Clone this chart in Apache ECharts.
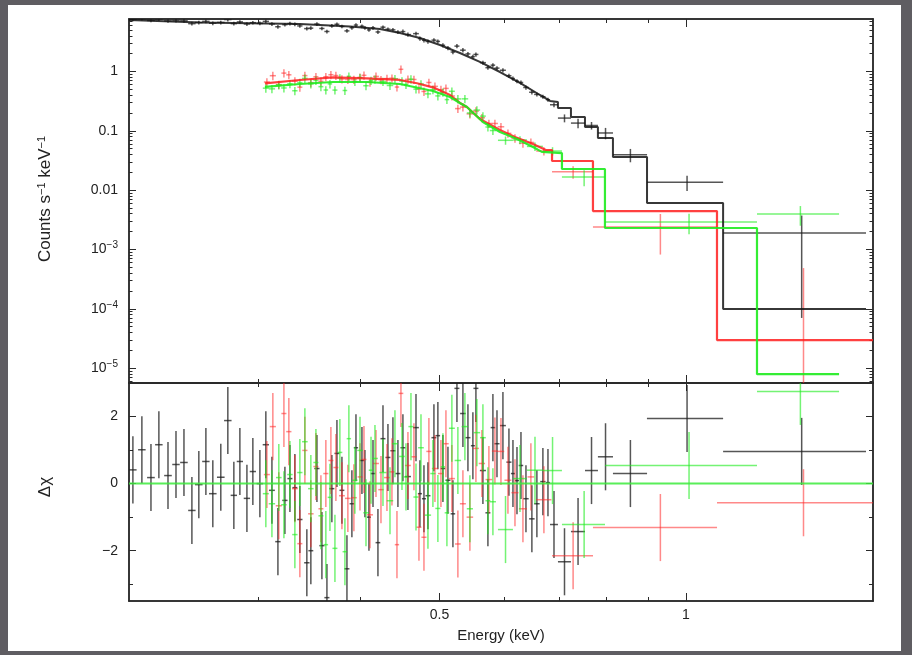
<!DOCTYPE html>
<html>
<head>
<meta charset="utf-8">
<title>Spectrum fit</title>
<script src="https://cdn.jsdelivr.net/npm/echarts@6/dist/echarts.min.js"></script>
<style>
  html, body { margin: 0; padding: 0; }
  #chart { width: 912px; height: 655px; }
</style>
</head>
<body>
<div id="chart"></div>
<script>
// axis ranges (keV, counts/s/keV, delta chi)
const xMin = 0.2088, xMax = 1.692;
const yMin = 5.6e-6, yMax = 7.68;
const rMin = -3.5, rMax = 3;

// tick positions
const xMajorTicks = [0.5, 1];
const xMinorTicks = [0.3, 0.4, 0.6, 0.7, 0.8, 0.9];
const yMajorTicks = [1e-5, 1e-4, 1e-3, 0.01, 0.1, 1];
const yMinorTicks = [6e-6, 7e-6, 8e-6, 9e-6,
  2e-5, 3e-5, 4e-5, 5e-5, 6e-5, 7e-5, 8e-5, 9e-5,
  2e-4, 3e-4, 4e-4, 5e-4, 6e-4, 7e-4, 8e-4, 9e-4,
  2e-3, 3e-3, 4e-3, 5e-3, 6e-3, 7e-3, 8e-3, 9e-3,
  0.02, 0.03, 0.04, 0.05, 0.06, 0.07, 0.08, 0.09,
  0.2, 0.3, 0.4, 0.5, 0.6, 0.7, 0.8, 0.9,
  2, 3, 4, 5, 6, 7];
const rMajorTicks = [-2, 0, 2];
const rMinorTicks = [-3, -1, 1];

// black data set
const blackE = [0.2111, 0.2165, 0.2221, 0.2271, 0.2330, 0.2383, 0.2437, 0.2492, 0.2541, 0.2592,
  0.2643, 0.2703, 0.2757, 0.2804, 0.2852, 0.2909, 0.2958, 0.3017, 0.3068, 0.3121,
  0.3174, 0.3237, 0.3283, 0.3329, 0.3376, 0.3443, 0.3482, 0.3542, 0.3592, 0.3643,
  0.3694, 0.3747, 0.3800, 0.3854, 0.3908, 0.3953, 0.4020, 0.4054, 0.4100, 0.4147,
  0.4205, 0.4265, 0.4325, 0.4386, 0.4448, 0.4511, 0.4575, 0.4680, 0.4732, 0.4786,
  0.4840, 0.4922, 0.4977, 0.5048, 0.5120, 0.5192, 0.5251, 0.5340, 0.5416, 0.5492,
  0.5539, 0.5649, 0.5729, 0.5810, 0.5877, 0.5976, 0.6078, 0.6147, 0.6217, 0.6287,
  0.6376, 0.6483, 0.6575, 0.6687, 0.6783, 0.6899,
  0.7106, 0.7382, 0.7667, 0.7975, 0.8553, 1.003, 1.3845];
const blackHW = [0.0022, 0.0023, 0.0024, 0.0024, 0.0025, 0.0025, 0.0026, 0.0026, 0.0027, 0.0027,
  0.0028, 0.0029, 0.0029, 0.0025, 0.0025, 0.0026, 0.0026, 0.0027, 0.0027, 0.0026,
  0.0024, 0.0024, 0.0023, 0.0023, 0.0025, 0.0026, 0.0024, 0.0026, 0.0026, 0.0026,
  0.0026, 0.0026, 0.0026, 0.0027, 0.0025, 0.0024, 0.0025, 0.0020, 0.0023, 0.0026,
  0.0028, 0.0030, 0.0030, 0.0031, 0.0031, 0.0031, 0.0039, 0.0038, 0.0027, 0.0027,
  0.0034, 0.0034, 0.0031, 0.0032, 0.0036, 0.0033, 0.0037, 0.0042, 0.0038, 0.0031,
  0.0039, 0.0048, 0.0040, 0.0037, 0.0042, 0.0050, 0.0043, 0.0035, 0.0035, 0.0040,
  0.0049, 0.0050, 0.0051, 0.0050, 0.0040, 0.0077,
  0.0130, 0.0146, 0.0140, 0.0169, 0.0410, 0.107, 0.2745];
const blackRate = [7.56, 7.79, 7.26, 7.69, 7.12, 7.21, 7.16, 6.41, 6.70, 7.00,
  6.51, 6.71, 7.52, 6.42, 6.86, 6.33, 6.66, 6.47, 7.00, 6.34,
  5.68, 6.16, 6.43, 6.27, 5.87, 5.29, 5.38, 6.32, 5.32, 4.73,
  5.88, 6.26, 5.75, 4.84, 5.47, 6.07, 5.80, 5.47, 5.03, 5.44,
  4.64, 5.59, 5.17, 5.04, 4.62, 4.71, 4.19, 4.35, 3.59, 3.36,
  3.21, 3.38, 3.22, 2.77, 2.49, 2.13, 2.68, 2.29, 1.98, 1.78,
  1.94, 1.41, 1.16, 1.28, 1.14, 1.05, 0.85, 0.761, 0.688, 0.653,
  0.538, 0.447, 0.411, 0.376, 0.335, 0.275,
  0.164, 0.135, 0.123, 0.092, 0.0395, 0.0136, 0.0019];
const blackErr = [0.54, 0.56, 0.52, 0.55, 0.51, 0.52, 0.52, 0.46, 0.48, 0.50,
  0.47, 0.48, 0.54, 0.46, 0.49, 0.46, 0.48, 0.47, 0.50, 0.46,
  0.41, 0.44, 0.46, 0.45, 0.42, 0.38, 0.39, 0.46, 0.38, 0.34,
  0.42, 0.45, 0.41, 0.35, 0.39, 0.44, 0.42, 0.39, 0.36, 0.39,
  0.33, 0.40, 0.37, 0.36, 0.33, 0.38, 0.34, 0.35, 0.29, 0.27,
  0.26, 0.27, 0.26, 0.22, 0.20, 0.17, 0.22, 0.19, 0.16, 0.14,
  0.16, 0.11, 0.094, 0.10, 0.092, 0.085, 0.069, 0.062, 0.056, 0.053,
  0.044, 0.036, 0.033, 0.030, 0.027, 0.025,
  0.025, 0.025, 0.018, 0.020, 0.010, 0.0039, 0.00183];
const blackRes = [0.41, 1.01, 0.18, 1.16, 0.24, 0.57, 0.63, -0.8, -0.03, 0.66,
  -0.3, 0.19, 1.88, -0.35, 0.66, -0.44, 0.36, 0, 1.16, -0.2,
  -1.73, -0.5, 0.15, -0.12, -1.07, -2.36, -2.0, 0.45, -1.85, -3.4,
  -0.15, 0.9, -0.2, -2.54, -0.6, 1.07, 0.69, 0, -1.0, 0.3,
  -1.76, 1.34, 0.78, 0.98, 0.3, 1.07, 0.21, 1.67, -0.3, -0.45,
  -0.36, 1.37, 1.43, 0.45, 0.1, -0.9, 2.84, 2.09, 1.37, 1.13,
  2.84, 0.39, -0.87, 1.67, 1.19, 1.73, 0.64, 0.3, 0.09, 0.54,
  -0.45, -1.05, -0.6, 0.06, 0.03, -1.22,
  -2.33, -1.43, 0.39, 0.8, 0.3, 1.94, 0.96];

// red data set
const redE = [0.3077, 0.3129, 0.3182, 0.3228, 0.3273, 0.3329, 0.3376, 0.3424, 0.3482, 0.3532,
  0.3582, 0.3632, 0.3684, 0.3736, 0.3800, 0.3864, 0.3930, 0.3998, 0.4043, 0.4112,
  0.4182, 0.4241, 0.4313, 0.4374, 0.4436, 0.4486, 0.4575, 0.4653, 0.4719, 0.4786,
  0.4853, 0.4936, 0.5020, 0.5091, 0.5177, 0.5265, 0.5340, 0.5446, 0.5539, 0.5633,
  0.5745, 0.5843, 0.5943, 0.6061, 0.6182, 0.6322, 0.6465, 0.6706,
  0.7280, 0.9305, 1.3916];
const redHW = [0.0026, 0.0027, 0.0027, 0.0023, 0.0024, 0.0027, 0.0024, 0.0025, 0.0027, 0.0025,
  0.0025, 0.0026, 0.0026, 0.0026, 0.0031, 0.0031, 0.0032, 0.0027, 0.0028, 0.0035,
  0.0035, 0.0032, 0.0035, 0.0031, 0.0027, 0.0030, 0.0038, 0.0034, 0.0033, 0.0034,
  0.0035, 0.0042, 0.0042, 0.0040, 0.0044, 0.0042, 0.0045, 0.0050, 0.0047, 0.0050,
  0.0054, 0.0050, 0.0055, 0.0059, 0.0062, 0.0071, 0.0060, 0.0143,
  0.0419, 0.1607, 0.3005];
const redRate = [0.666, 0.850, 0.602, 0.940, 0.880, 0.689, 0.545, 0.853, 0.648, 0.817,
  0.684, 0.817, 0.883, 0.856, 0.748, 0.734, 0.731, 0.798, 0.863, 0.661,
  0.827, 0.727, 0.760, 0.771, 0.547, 1.09, 0.737, 0.734, 0.508, 0.461,
  0.653, 0.562, 0.494, 0.519, 0.387, 0.237, 0.251, 0.193, 0.215, 0.166,
  0.133, 0.133, 0.117, 0.0907, 0.0752, 0.0619, 0.0637, 0.0456,
  0.0204, 0.00239, -0.000575];
const redErr = [0.107, 0.136, 0.096, 0.150, 0.140, 0.110, 0.087, 0.136, 0.104, 0.131,
  0.109, 0.131, 0.141, 0.137, 0.120, 0.117, 0.117, 0.128, 0.138, 0.106,
  0.132, 0.116, 0.122, 0.123, 0.088, 0.174, 0.118, 0.117, 0.081, 0.074,
  0.104, 0.090, 0.079, 0.083, 0.062, 0.038, 0.040, 0.031, 0.034, 0.027,
  0.021, 0.021, 0.019, 0.0145, 0.012, 0.0099, 0.0102, 0.0073,
  0.0049, 0.00157, 0.00106];
const redRes = [0.27, 1.70, -0.66, 2.09, 1.55, -0.15, -1.79, 0.99, -0.90, 0.51,
  -0.75, 0.30, 0.69, 0.48, -0.36, -0.44, -0.42, 0.20, 0.72, -0.93,
  0.60, -0.18, 0.18, 0.35, -1.82, 2.69, 0.54, 0.80, -1.30, -1.60,
  0.96, 0.45, 0.30, 1.19, 0.15, -1.80, -0.60, -1.00, 1.05, 0.60,
  0.12, 0.97, 0.96, 0.10, -0.27, -0.75, 0.20, -0.48,
  -2.15, -1.31, -0.57];

// green data set
const greenE = [0.3068, 0.3121, 0.3182, 0.3228, 0.3283, 0.3329, 0.3376, 0.3424, 0.3482, 0.3532,
  0.3582, 0.3632, 0.3674, 0.3726, 0.3778, 0.3832, 0.3875, 0.3941, 0.3998, 0.4066,
  0.4124, 0.4170, 0.4265, 0.4350, 0.4411, 0.4499, 0.4550, 0.4614, 0.4680, 0.4746,
  0.4840, 0.4908, 0.4977, 0.5048, 0.5105, 0.5177, 0.5265, 0.5370, 0.5446, 0.5554,
  0.5649, 0.5729, 0.5810, 0.6020, 0.6270, 0.6540, 0.6871,
  0.7509, 1.0086, 1.3795];
const greenHW = [0.0026, 0.0028, 0.0025, 0.0025, 0.0025, 0.0025, 0.0025, 0.0027, 0.0027, 0.0025,
  0.0025, 0.0023, 0.0023, 0.0026, 0.0026, 0.0025, 0.0024, 0.0030, 0.0031, 0.0031,
  0.0026, 0.0034, 0.0043, 0.0040, 0.0038, 0.0036, 0.0029, 0.0033, 0.0034, 0.0038,
  0.0043, 0.0036, 0.0036, 0.0032, 0.0032, 0.0043, 0.0048, 0.0050, 0.0047, 0.0051,
  0.0046, 0.0040, 0.0050, 0.0127, 0.0123, 0.0147, 0.0184,
  0.0454, 0.2124, 0.1585];
const greenRate = [0.524, 0.510, 0.593, 0.528, 0.621, 0.474, 0.650, 0.766, 0.618, 0.708,
  0.555, 0.488, 0.618, 0.486, 0.775, 0.479, 0.827, 0.676, 0.784, 0.576,
  0.705, 0.739, 0.676, 0.581, 0.756, 0.692, 0.604, 0.742, 0.505, 0.616,
  0.420, 0.494, 0.388, 0.445, 0.336, 0.464, 0.345, 0.346, 0.200, 0.224,
  0.177, 0.116, 0.101, 0.0692, 0.0702, 0.0546, 0.0456,
  0.0166, 0.0029, 0.00395];
const greenErr = [0.084, 0.082, 0.095, 0.084, 0.099, 0.076, 0.104, 0.123, 0.099, 0.113,
  0.089, 0.078, 0.099, 0.078, 0.124, 0.077, 0.132, 0.108, 0.125, 0.092,
  0.113, 0.118, 0.108, 0.093, 0.121, 0.111, 0.097, 0.119, 0.081, 0.099,
  0.067, 0.079, 0.062, 0.071, 0.054, 0.074, 0.055, 0.055, 0.032, 0.036,
  0.028, 0.019, 0.016, 0.011, 0.011, 0.0087, 0.0073,
  0.0050, 0.0011, 0.00144];
const greenRes = [-0.30, -0.60, 0.18, -0.63, 0.27, -1.52, 0.33, 1.25, -0.15, 0.63,
  -0.96, -1.82, -0.41, -1.93, 0.93, -2.03, 1.34, 0.10, 0.99, -0.87,
  0.40, 0.75, 0.33, -0.51, 1.19, 0.81, 0.20, 1.70, -0.40, 1.07,
  -0.94, 0.30, -0.74, 0.50, -0.87, 1.65, 0.69, 1.70, -0.75, 1.52,
  1.37, -0.51, -0.54, -1.37, 0.15, 0.40, 0.39,
  -1.22, 0.54, 2.75];

// folded models: smooth part (knots) followed by wide step bins
const blackModelE = [0.2088, 0.2548, 0.3376, 0.3887, 0.4229, 0.4474, 0.4732, 0.5006, 0.5295,
  0.5601, 0.5927, 0.6269, 0.6631, 0.6822];
const blackModelV = [7.39, 6.70, 6.32, 5.74, 5.21, 4.46, 3.67, 2.80, 2.05, 1.45, 0.981, 0.641, 0.402, 0.319];
const blackStepEdges = [0.6822, 0.6976, 0.7236, 0.7527, 0.7806, 0.8143, 0.8962, 1.110, 1.659];
const blackStepVals = [0.306, 0.242, 0.171, 0.116, 0.0756, 0.0363, 0.00606, 0.000099];

const redModelE = [0.306, 0.3376, 0.3705, 0.4077, 0.4474, 0.4693, 0.4908, 0.5150, 0.5295, 0.5401,
  0.5601, 0.5927, 0.6182, 0.6503, 0.6744, 0.6861];
const redModelV = [0.633, 0.720, 0.799, 0.769, 0.720, 0.633, 0.541, 0.402, 0.295, 0.252,
  0.158, 0.103, 0.0785, 0.0598, 0.0475, 0.0475];
const redStepEdges = [0.6861, 0.7698, 1.0911, 1.692];
const redStepVals = [0.031, 0.00444, 0.0000296];

const greenModelE = [0.306, 0.3376, 0.3705, 0.4077, 0.4474, 0.4908, 0.5150, 0.5295, 0.5401, 0.5649,
  0.5927, 0.6217, 0.6503, 0.6668, 0.7055];
const greenModelV = [0.549, 0.616, 0.666, 0.666, 0.616, 0.470, 0.372, 0.295, 0.252, 0.141,
  0.0953, 0.0727, 0.0535, 0.0441, 0.0422];
const greenStepEdges = [0.7055, 0.7962, 1.221, 1.538];
const greenStepVals = [0.0227, 0.0023, 0.0000079];

const axisColor = '#2a2a2a';
const font = '"Liberation Sans", Arial, sans-serif';
const colBlack = 'rgba(30,30,30,0.75)';
const colRed = 'rgba(255,40,40,0.55)';
const colGreen = 'rgba(30,235,30,0.62)';

function modelLine(knotE, knotV, edges, vals) {
  const pts = knotE.map(function (e, i) { return [e, knotV[i]]; });
  for (let i = 0; i < vals.length; i++) {
    pts.push([edges[i], vals[i]]);
    pts.push([edges[i + 1], vals[i]]);
  }
  return pts;
}

function seg(p1, p2, color) {
  return { type: 'line', shape: { x1: p1[0], y1: p1[1], x2: p2[0], y2: p2[1] },
    style: { stroke: color, lineWidth: 1.5 } };
}

// error cross in the spectrum panel (log y)
function crossTop(color) {
  return function (params, api) {
    const e = api.value(0), v = api.value(1), hw = api.value(2), er = api.value(3);
    const kids = [];
    let lo = v - er;
    if (lo <= 0) lo = yMin * 0.01;
    if (v + er > 0) kids.push(seg(api.coord([e, v + er]), api.coord([e, lo]), color));
    if (v > 0) kids.push(seg(api.coord([e - hw, v]), api.coord([e + hw, v]), color));
    return { type: 'group', children: kids };
  };
}

// error cross in the residual panel (error is 1 sigma)
function crossRes(color) {
  return function (params, api) {
    const e = api.value(0), r = api.value(1), hw = api.value(2);
    return { type: 'group', children: [
      seg(api.coord([e, r + 1]), api.coord([e, r - 1]), color),
      seg(api.coord([e - hw, r]), api.coord([e + hw, r]), color)
    ] };
  };
}

function xAx(grid, pos, ticks, len, label) {
  return {
    type: 'log', gridIndex: grid, position: pos, min: xMin, max: xMax,
    axisLine: { show: true, onZero: false, lineStyle: { color: axisColor, width: 1.5 } },
    axisTick: { show: true, inside: true, length: len, customValues: ticks, lineStyle: { color: axisColor, width: 1 } },
    axisLabel: label ? {
      show: true, customValues: xMajorTicks, margin: 7, fontSize: 14, color: '#222', fontFamily: font,
      formatter: function (v) { return String(v); }
    } : { show: false },
    splitLine: { show: false }
  };
}

function yLogAx(pos, ticks, len, label) {
  return {
    type: 'log', gridIndex: 0, position: pos, min: yMin, max: yMax,
    axisLine: { show: true, onZero: false, lineStyle: { color: axisColor, width: 1.5 } },
    axisTick: { show: true, inside: true, length: len, customValues: ticks, lineStyle: { color: axisColor, width: 1 } },
    axisLabel: label ? {
      show: true, customValues: yMajorTicks, margin: 11, fontSize: 14, color: '#222', fontFamily: font,
      formatter: function (v) {
        if (v >= 0.01) return String(v);
        return '{b|10}{s|\u2212' + Math.round(-Math.log10(v)) + '}';
      },
      rich: {
        b: { fontSize: 14, fontFamily: font, color: '#222', lineHeight: 18 },
        s: { fontSize: 10, fontFamily: font, color: '#222', verticalAlign: 'top', lineHeight: 12 }
      }
    } : { show: false },
    splitLine: { show: false }
  };
}

function yResAx(pos, ticks, len, label) {
  return {
    type: 'value', gridIndex: 1, position: pos, min: rMin, max: rMax,
    axisLine: { show: true, onZero: false, lineStyle: { color: axisColor, width: 1.5 } },
    axisTick: { show: true, inside: true, length: len, customValues: ticks, lineStyle: { color: axisColor, width: 1 } },
    axisLabel: label ? {
      show: true, customValues: rMajorTicks, margin: 11, fontSize: 14, color: '#222', fontFamily: font,
      formatter: function (v) { return v < 0 ? '\u2212' + (-v) : String(v); }
    } : { show: false },
    splitLine: { show: false }
  };
}

const chart = echarts.init(document.getElementById('chart'));

chart.setOption({
  animation: false,
  backgroundColor: '#5f5d62',
  graphic: [
    { type: 'rect', z: -100, shape: { x: 8, y: 5, width: 893, height: 646 }, style: { fill: '#ffffff' } },
    { type: 'text', x: 45, y: 199, rotation: Math.PI / 2,
      style: { text: 'Counts s{s|\u22121} keV{s|\u22121}', font: '17px ' + font, fill: '#222',
        align: 'center', verticalAlign: 'middle',
        rich: { s: { fontSize: 11, fontFamily: font, fill: '#222', verticalAlign: 'top', lineHeight: 11 } } } },
    { type: 'text', x: 45, y: 487, rotation: Math.PI / 2,
      style: { text: '\u0394\u03c7', font: '17px ' + font, fill: '#222', align: 'center', verticalAlign: 'middle' } },
    { type: 'text', x: 501, y: 636,
      style: { text: 'Energy (keV)', font: '15px ' + font, fill: '#222', align: 'center', verticalAlign: 'middle' } }
  ],
  grid: [
    { left: 129, top: 19, width: 744, height: 364 },
    { left: 129, top: 383, width: 744, height: 218 }
  ],
  xAxis: [
    xAx(0, 'bottom', xMinorTicks, 4, false),
    xAx(0, 'bottom', xMajorTicks, 8, false),
    xAx(0, 'top', xMinorTicks, 4, false),
    xAx(0, 'top', xMajorTicks, 8, false),
    xAx(1, 'bottom', xMinorTicks, 4, false),
    xAx(1, 'bottom', xMajorTicks, 8, true),
    xAx(1, 'top', xMinorTicks, 4, false),
    xAx(1, 'top', xMajorTicks, 8, false)
  ],
  yAxis: [
    yLogAx('left', yMajorTicks, 7, true),
    yLogAx('left', yMinorTicks, 3.5, false),
    yLogAx('right', yMajorTicks, 7, false),
    yLogAx('right', yMinorTicks, 3.5, false),
    yResAx('left', rMajorTicks, 7, true),
    yResAx('left', rMinorTicks, 4, false),
    yResAx('right', rMajorTicks, 7, false),
    yResAx('right', rMinorTicks, 4, false)
  ],
  series: [
    // spectrum panel
    { type: 'custom', xAxisIndex: 0, yAxisIndex: 0, clip: true, encode: { x: 0, y: 1 },
      renderItem: crossTop(colBlack),
      data: blackE.map(function (e, i) { return [e, blackRate[i], blackHW[i], blackErr[i]]; }) },
    { type: 'custom', xAxisIndex: 0, yAxisIndex: 0, clip: true, encode: { x: 0, y: 1 },
      renderItem: crossTop(colRed),
      data: redE.map(function (e, i) { return [e, redRate[i], redHW[i], redErr[i]]; }) },
    { type: 'custom', xAxisIndex: 0, yAxisIndex: 0, clip: true, encode: { x: 0, y: 1 },
      renderItem: crossTop(colGreen),
      data: greenE.map(function (e, i) { return [e, greenRate[i], greenHW[i], greenErr[i]]; }) },
    { type: 'line', xAxisIndex: 0, yAxisIndex: 0, showSymbol: false, clip: true,
      lineStyle: { color: 'rgba(20,20,20,0.85)', width: 2 },
      data: modelLine(blackModelE, blackModelV, blackStepEdges, blackStepVals) },
    { type: 'line', xAxisIndex: 0, yAxisIndex: 0, showSymbol: false, clip: true,
      lineStyle: { color: 'rgba(255,30,30,0.85)', width: 2.2 },
      data: modelLine(redModelE, redModelV, redStepEdges, redStepVals) },
    { type: 'line', xAxisIndex: 0, yAxisIndex: 0, showSymbol: false, clip: true,
      lineStyle: { color: 'rgba(30,235,30,0.9)', width: 2.2 },
      data: modelLine(greenModelE, greenModelV, greenStepEdges, greenStepVals) },

    // residual panel
    { type: 'custom', xAxisIndex: 4, yAxisIndex: 4, clip: true, encode: { x: 0, y: 1 },
      renderItem: crossRes(colBlack),
      data: blackE.map(function (e, i) { return [e, blackRes[i], blackHW[i]]; }) },
    { type: 'custom', xAxisIndex: 4, yAxisIndex: 4, clip: true, encode: { x: 0, y: 1 },
      renderItem: crossRes(colRed),
      data: redE.map(function (e, i) { return [e, redRes[i], redHW[i]]; }) },
    { type: 'custom', xAxisIndex: 4, yAxisIndex: 4, clip: true, encode: { x: 0, y: 1 },
      renderItem: crossRes(colGreen),
      data: greenE.map(function (e, i) { return [e, greenRes[i], greenHW[i]]; }) },
    { type: 'line', xAxisIndex: 4, yAxisIndex: 4, showSymbol: false, clip: true,
      lineStyle: { color: 'rgba(60,235,60,0.85)', width: 2 },
      data: [[xMin, 0], [xMax, 0]] }
  ]
});
</script>
</body>
</html>
